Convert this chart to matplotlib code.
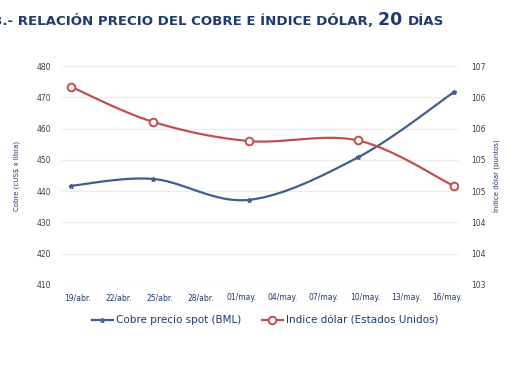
import numpy as np
import matplotlib.pyplot as plt
from matplotlib.lines import Line2D

# days counted from 19/abr
days = [-0.5, 5.5, 12.5, 20.5, 27.5]
cobre = [441.7, 443.9, 437.2, 450.8, 471.6]
dolar = [106.62, 105.98, 105.63, 105.64, 104.81]

tick_days = [0, 3, 6, 9, 12, 15, 18, 21, 24, 27]
tick_labels = ['19/abr.', '22/abr.', '25/abr.', '28/abr.', '01/may.',
               '04/may.', '07/may.', '10/may.', '13/may.', '16/may.']

left_ticks = [410, 420, 430, 440, 450, 460, 470, 480]
right_ticks = np.linspace(103, 107, 8)

blue = '#3f5f8c'
red = '#c0504d'
navy = '#1f3a6e'
tick_col = '#404040'


def smooth(x, y, n=30):
    # catmull-rom style curve, like excel's smoothed lines
    x = np.asarray(x, float)
    y = np.asarray(y, float)
    px = np.concatenate([[x[0]], x, [x[-1]]])
    py = np.concatenate([[y[0]], y, [y[-1]]])
    xs, ys = [], []
    t = np.linspace(0, 1, n)
    for i in range(1, len(px) - 2):
        p0 = np.array([px[i], py[i]])
        p3 = np.array([px[i + 1], py[i + 1]])
        p1 = p0 + (np.array([px[i + 1], py[i + 1]]) - np.array([px[i - 1], py[i - 1]])) / 6
        p2 = p3 - (np.array([px[i + 2], py[i + 2]]) - np.array([px[i], py[i]])) / 6
        b = ((1 - t) ** 3)[:, None] * p0 + (3 * (1 - t) ** 2 * t)[:, None] * p1 \
            + (3 * (1 - t) * t ** 2)[:, None] * p2 + (t ** 3)[:, None] * p3
        xs.extend(b[:, 0])
        ys.extend(b[:, 1])
    return xs, ys


fig = plt.figure(figsize=(5.10, 3.71), dpi=100)
ax = fig.add_axes([0.1216, 0.232, 0.776, 0.590])
ax2 = ax.twinx()

ax.set_xlim(-1.16, 27.8)
ax.set_ylim(410, 480)
ax2.set_ylim(103, 107)

ax.set_yticks(left_ticks)
ax.set_yticklabels([str(v) for v in left_ticks])
ax2.set_yticks(right_ticks)
ax2.set_yticklabels(['%.0f' % v for v in right_ticks])
ax.set_xticks(tick_days)
ax.set_xticklabels(tick_labels)

ax.grid(axis='y', color='#ececec', lw=0.9)
ax.set_axisbelow(True)
for a in (ax, ax2):
    for s in a.spines.values():
        s.set_visible(False)
    a.tick_params(length=0, labelsize=5.5, labelcolor=tick_col)
ax.tick_params(axis='y', pad=8)
ax2.tick_params(axis='y', pad=10)
ax.tick_params(axis='x', pad=6, labelcolor=navy)

sx, sy = smooth(days, cobre)
ax.plot(sx, sy, color=blue, lw=1.6)
ax.plot(days, cobre, ls='none', marker='*', ms=3.5, color=blue)

rx, ry = smooth(days, dolar)
ax2.plot(rx, ry, color=red, lw=1.6)
ax2.plot(days, dolar, ls='none', marker='o', ms=5.5, mfc='white', mec=red, mew=1.4)

ax.set_ylabel('Cobre (cUS$ x libra)', fontsize=5, color=navy, labelpad=12)
ax2.set_ylabel('Índice dólar (puntos)', fontsize=5, color=navy, labelpad=5)

handles = [
    Line2D([], [], color=blue, lw=1.6, marker='*', ms=3.5),
    Line2D([], [], color=red, lw=1.6, marker='o', ms=5.5, mfc='white', mec=red, mew=1.4),
]
fig.legend(handles, ['Cobre precio spot (BML)', 'Indice dólar (Estados Unidos)'],
           loc='center', bbox_to_anchor=(0.52, 0.137), ncol=2, frameon=False,
           fontsize=7.5, handlelength=2.0, columnspacing=2.0, handletextpad=0.3,
           labelcolor=navy)

# title in small caps style: pieces laid side by side
renderer = fig.canvas.get_renderer()
x0 = -7
pieces = [('3.- RELACIÓN PRECIO DEL COBRE E ÍNDICE DÓLAR, ', 9.6),
          ('20 ', 12.5), ('DÍAS', 9.6)]
for txt, size in pieces:
    t = fig.text(x0 / 510, 1 - 25 / 371, txt, fontsize=size, fontweight='bold',
                 color=navy, va='baseline')
    x0 += t.get_window_extent(renderer).width

fig.savefig('out.png', dpi=100)
